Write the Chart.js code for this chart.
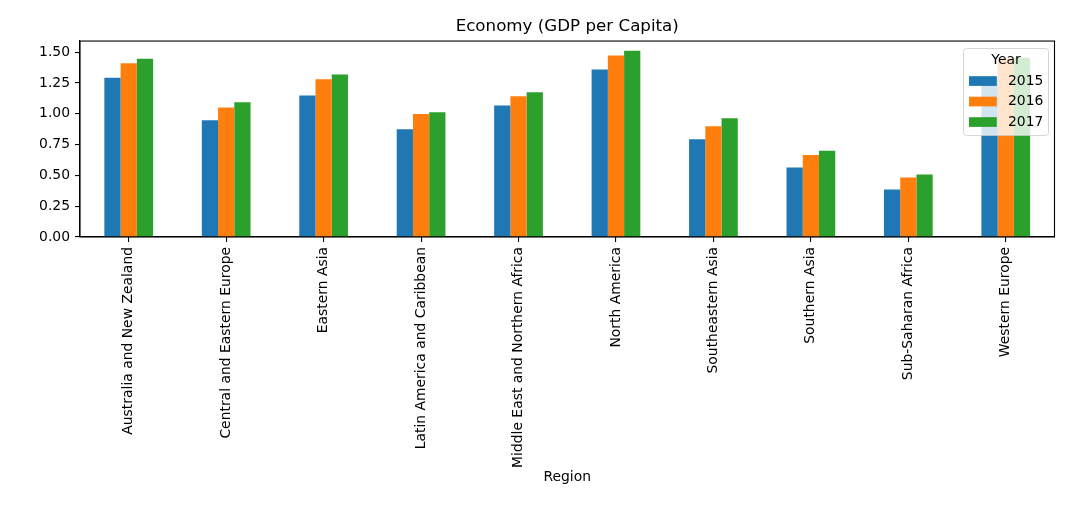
<!DOCTYPE html>
<html>
<head>
<meta charset="utf-8">
<script src="https://cdn.jsdelivr.net/npm/chart.js@4/dist/chart.umd.min.js"></script>
<style>
html,body{margin:0;padding:0;background:#fff;}
#wrap{width:1080px;height:529px;position:relative;}
</style>
</head>
<body>
<div id="wrap"><canvas id="c"></canvas></div>
<script>
const categories = ["Australia and New Zealand","Central and Eastern Europe","Eastern Asia","Latin America and Caribbean","Middle East and Northern Africa","North America","Southeastern Asia","Southern Asia","Sub-Saharan Africa","Western Europe"];
const years = ["2015","2016","2017"];
const y2015 = [1.292, 0.948, 1.149, 0.875, 1.067, 1.360, 0.794, 0.563, 0.385, 1.300];
const y2016 = [1.409, 1.051, 1.279, 0.997, 1.143, 1.473, 0.899, 0.666, 0.482, 1.450];
const y2017 = [1.446, 1.094, 1.319, 1.013, 1.175, 1.511, 0.964, 0.699, 0.507, 1.455];
const yTicks = [0, 0.25, 0.5, 0.75, 1.0, 1.25, 1.5];
const colors = ["#1f77b4", "#ff7f0e", "#2ca02c"];

const FONT = "'DejaVu Sans', sans-serif";
Chart.defaults.font.family = FONT;
Chart.defaults.color = "#000";

const framePlugin = {
  id: 'frame',
  afterDatasetsDraw(chart) {
    const {ctx, chartArea: a} = chart;
    ctx.save();
    ctx.strokeStyle = '#000';
    ctx.lineWidth = 1.1;
    ctx.strokeRect(a.left, a.top, a.right - a.left, a.bottom - a.top);
    ctx.restore();
  }
};

const legendPlugin = {
  id: 'mplLegend',
  afterDatasetsDraw(chart) {
    const {ctx, chartArea: a} = chart;
    const w = 85, h = 87;
    const x0 = a.right - 6 - w, y0 = a.top + 7.5;
    ctx.save();
    ctx.beginPath();
    const r = 3;
    ctx.moveTo(x0 + r, y0);
    ctx.arcTo(x0 + w, y0, x0 + w, y0 + h, r);
    ctx.arcTo(x0 + w, y0 + h, x0, y0 + h, r);
    ctx.arcTo(x0, y0 + h, x0, y0, r);
    ctx.arcTo(x0, y0, x0 + w, y0, r);
    ctx.closePath();
    ctx.fillStyle = 'rgba(255,255,255,0.8)';
    ctx.fill();
    ctx.strokeStyle = 'rgba(204,204,204,0.8)';
    ctx.lineWidth = 1;
    ctx.stroke();
    ctx.fillStyle = '#000';
    ctx.font = "13.9px " + FONT;
    ctx.textAlign = 'center';
    ctx.textBaseline = 'middle';
    ctx.fillText('Year', x0 + w / 2, y0 + 12);
    ctx.textAlign = 'left';
    chart.data.datasets.forEach((ds, i) => {
      const cy = y0 + 32.5 + i * 20.5;
      ctx.fillStyle = ds.backgroundColor;
      ctx.fillRect(x0 + 5.5, cy - 4.85, 27.8, 9.7);
      ctx.fillStyle = '#000';
      ctx.fillText(ds.label, x0 + 44.5, cy);
    });
    ctx.restore();
  }
};

new Chart(document.getElementById('c'), {
  type: 'bar',
  data: {
    labels: categories,
    datasets: [
      {label: years[0], data: y2015, backgroundColor: colors[0]},
      {label: years[1], data: y2016, backgroundColor: colors[1]},
      {label: years[2], data: y2017, backgroundColor: colors[2]}
    ]
  },
  options: {
    responsive: true,
    maintainAspectRatio: false,
    animation: false,
    devicePixelRatio: 1,
    layout: {padding: {left: 0, right: 25.5, top: 0, bottom: 0}},
    datasets: {bar: {categoryPercentage: 0.5, barPercentage: 1.0, borderWidth: 0}},
    plugins: {
      legend: {display: false},
      tooltip: {enabled: false},
      title: {
        display: true,
        text: 'Economy (GDP per Capita)',
        fullSize: false,
        color: '#000',
        font: {size: 16.7, weight: 'normal', family: FONT, lineHeight: 1.2},
        padding: {top: 17, bottom: 4}
      }
    },
    scales: {
      x: {
        offset: true,
        grid: {display: true, drawOnChartArea: false, drawTicks: true, tickLength: 5, offset: false, color: '#000', lineWidth: 1.1},
        border: {display: true, color: '#000', width: 1.1},
        ticks: {minRotation: 90, maxRotation: 90, autoSkip: false, padding: 5, color: '#000', font: {size: 13.9, family: FONT}},
        title: {display: true, text: 'Region', color: '#000', font: {size: 13.9, family: FONT, lineHeight: 1.2}, padding: {top: 0, bottom: 43}},
        afterFit(scale) { scale.height = 292; }
      },
      y: {
        min: 0,
        max: 1.59,
        grid: {display: true, drawOnChartArea: false, drawTicks: true, tickLength: 5, color: '#000', lineWidth: 1.1},
        border: {display: true, color: '#000', width: 1.1},
        ticks: {padding: 5, color: '#000', font: {size: 13.9, family: FONT}, callback: (v) => Number(v).toFixed(2)},
        afterBuildTicks(scale) { scale.ticks = yTicks.map(v => ({value: v})); },
        afterFit(scale) { scale.width = 80; }
      }
    }
  },
  plugins: [framePlugin, legendPlugin]
});
</script>
</body>
</html>
